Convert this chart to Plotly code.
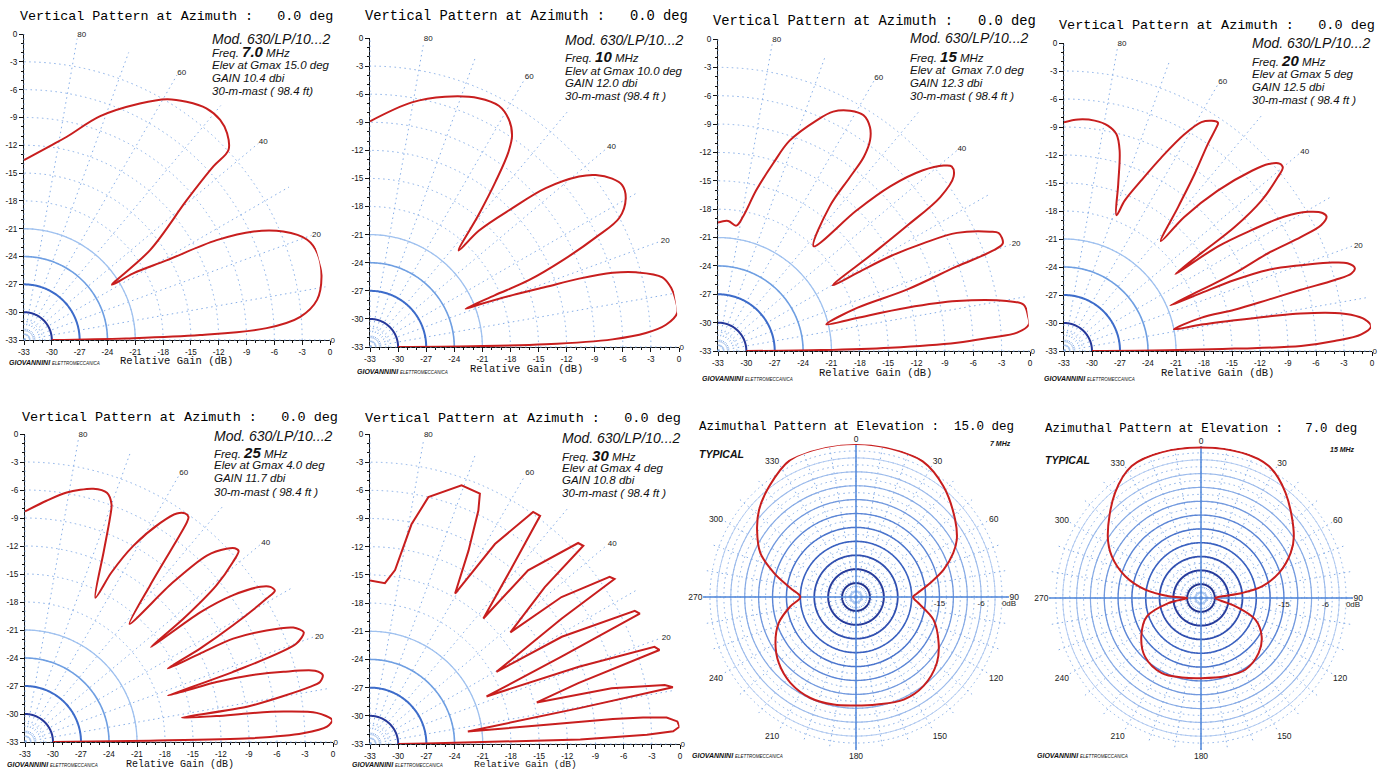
import numpy as np
import plotly.graph_objects as go

W, H = 1392, 769

# ------------------------------------------------------------------
# DATA  (elevation angle in degrees, relative gain in dB)
# ------------------------------------------------------------------
elev_7mhz = [0, 0.9, 1.6, 2.8, 4.8, 7.8, 12.0, 16.4, 19.5, 22.7, 25.3, 27.4, 29.2, 31.4, 32.1,
             35.5, 40.7, 42.5, 42.9, 45.5, 48.3, 51.8, 55.7, 59.3, 63.9, 71.2, 78.1, 82.4, 90]
gain_7mhz = [-30, -22, -14.0, -6.8, -3.1, -1.1, -0.2, 0, -0.6, -2.7, -5.6, -9.6, -15.4, -19.2, -21.8,
             -16.3, -9.8, -5.3, -2.9, -1.75, -1.2, -1.2, -1.9, -2.8, -4.6, -7.5, -10.6, -11.9, -13.6]

elev_10mhz = [0, 0.4, 0.86, 1.8, 2.9, 4.3, 6.3, 9.2, 11.0, 13.4, 15.7, 17.0, 18.1, 18.9, 20.0, 21.2, 21.8,
              22.5, 22.8, 24.2, 25.9, 27.4, 30.2, 32.7, 34.8, 37.3, 39.2, 42.1, 44.3, 46.9, 47.4,
              50.6, 52.8, 54.6, 56.1, 58.7, 61.9, 66.4, 73.3, 80.3, 90]
gain_10mhz = [-30, -22, -14.25, -7.1, -3.5, -1.3, 0, 0, -0.2, -0.9, -3.5, -5.9, -9.5, -13.2, -16.8, -20.4, -22.0,
              -18.6, -14.6, -10.5, -6.2, -3.0, -1.4, -1.0, -1.5, -2.7, -4.2, -7.7, -11.8, -16.0, -19.0,
              -14.7, -10.8, -7.5, -5.8, -4.5, -3.8, -4.0, -5.1, -6.5, -8.9]

elev_15mhz = [0, 0.5, 1.1, 2.0, 2.8, 3.5, 4.9, 6.4, 8.6, 9.8, 11.8, 12.9, 13.4, 13.8,
              17.2, 18.0, 19.5, 20.0, 20.7, 22.8, 23.7, 26.3, 27.7, 28.8, 29.3, 29.8,
              32.2, 33.5, 34.7, 36.5, 38.3, 39.4, 41.4, 43.7, 45.4, 47.6,
              52.3, 52.8, 53.1, 54.2, 55.8, 58.3, 61.2, 64.3, 66.9, 71.2, 73.6, 76.6, 79.4, 81.7, 85.5, 90]
gain_15mhz = [-30, -22, -14.8, -7.7, -4.2, -1.3, 0, 0, -0.3, -2.0, -7.2, -12.5, -17.9, -21.2,
              -17.6, -12.0, -6.2, -2.3, -0.8, -0.8, -1.6, -4.8, -8.5, -12.2, -16.0, -19.0,
              -13.6, -9.1, -4.4, -2.0, -1.5, -2.1, -4.1, -7.8, -12.1, -18.0,
              -13.7, -9.9, -7.3, -5.5, -4.4, -3.7, -4.0, -4.9, -6.5, -9.5, -12.3, -15.5, -18.5, -19.6, -19.2, -19.4]

elev_20mhz = [0, 0.4, 0.8, 1.2, 2.1, 3.2, 4.6, 6.0, 7.2, 8.0, 9.0, 9.6, 10.2, 10.9, 11.2,
              13.6, 13.6, 14.1, 14.5, 14.7, 15.1, 15.9, 17.2, 18.5, 19.9, 21.7, 22.6, 22.9, 23.2,
              24.0, 24.5, 25.6, 25.7, 26.1, 27.1, 28.1, 29.7, 31.4, 32.8, 34.2, 34.6,
              35.5, 36.0, 37.3, 39.1, 40.0, 41.0, 42.4, 43.8, 46.2, 48.1, 48.6,
              51.6, 53.6, 55.2, 55.7, 56.0, 57.3, 59.0, 60.9, 63.3, 65.6, 68.0, 68.9,
              72.0, 74.5, 76.4, 79.0, 82.4, 86.5, 90]
gain_20mhz = [-30, -22, -14.7, -7.6, -4.0, -1.1, 0, -0.6, -2.0, -3.7, -7.3, -10.8, -14.4, -18.0, -21.0,
              -17.9, -14.2, -10.4, -6.8, -3.0, -1.1, -0.6, -1.2, -3.2, -6.0, -9.5, -13.2, -17.0, -20.6,
              -16.9, -12.9, -8.7, -4.8, -2.3, -1.4, -1.6, -2.9, -5.4, -9.1, -13.1, -18.5,
              -14.9, -10.4, -6.4, -3.5, -2.4, -2.4, -3.3, -5.1, -9.2, -13.7, -17.3,
              -13.3, -9.4, -6.0, -4.1, -3.5, -3.7, -4.4, -6.4, -9.8, -12.9, -15.6, -17.4,
              -14.2, -10.7, -9.1, -8.4, -8.1, -8.15, -8.5]

elev_25mhz = [0, 0.6, 0.95, 1.8, 2.9, 4.1, 5.7, 6.7, 7.3, 7.7, 8.8,
              9.1, 10.95, 11.5, 12.65, 13.8, 15.2, 16.5, 17.4, 18.0,
              18.6, 19.9, 21.5, 23.1, 24.8, 26.4, 26.8, 27.2,
              28.1, 29.3, 30.7, 31.2, 32.3, 33.4, 35.2, 36.5, 37.0,
              37.9, 39.3, 40.9, 41.8, 42.7, 43.8, 45.7, 47.2, 48.5,
              51.4, 52.9, 53.6, 54.0, 55.0, 56.4, 58.3, 61.1, 63.0, 64.0,
              67.5, 69.2, 70.0, 71.8, 74.9, 80.5, 84.9, 90]
gain_25mhz = [-30, -19.6, -8.9, -3.2, -0.6, 0, -1.6, -5.1, -8.7, -12.3, -16.0,
              -8.6, -1.9, -0.75, -0.3, -1.0, -4.3, -7.9, -11.5, -16.9,
              -9.6, -2.1, -0.9, -1.75, -4.5, -8.1, -12.0, -15.8,
              -11.7, -7.4, -2.9, -1.7, -1.9, -2.8, -5.7, -9.65, -16.1,
              -11.5, -6.5, -3.5, -2.3, -2.4, -3.1, -5.1, -9.8, -16.1,
              -11.5, -6.6, -3.8, -3.2, -3.1, -3.6, -5.4, -9.0, -12.65, -15.8,
              -11.0, -7.4, -5.9, -4.9, -4.9, -5.9, -7.05, -8.3]

elev_30mhz = [0, 0.5, 1.0, 1.2, 1.9, 2.4, 3.2, 4.2, 5.1, 5.55, 5.9, 6.2, 7.3,
              9.7, 10.6, 11.3, 13.0, 14.0,
              16.3, 18.0, 18.85, 20.3, 22.2,
              24.5, 25.8, 26.7, 29.2, 29.7,
              33.2, 34.0, 34.9, 37.5, 38.5,
              41.9, 42.9, 44.0, 47.7, 47.9,
              51.2, 53.3, 54.9, 58.0, 60.5,
              63.0, 65.1, 66.3, 70.5, 76.7, 79.3, 81.8, 84.7, 90]
gain_30mhz = [-30, -27, -21, -10.6, -3.5, -0.7, 0, -0.2, -1.3, -3.8, -7.0, -14.1, -22.5,
              -10.5, -0.2, -1.0, -6.6, -14.7,
              -9.9, -0.6, -1.0, -9.3, -19.6,
              -10.6, -1.1, -1.45, -9.6, -17.5,
              -8.6, -1.6, -1.9, -7.3, -13.9,
              -8.0, -2.0, -2.2, -8.0, -15.0,
              -8.9, -2.7, -2.8, -7.9, -14.6,
              -9.9, -5.6, -3.9, -3.8, -6.0, -9.2, -14.3, -15.8, -15.6]

# azimuthal patterns (azimuth deg, relative gain dB)
azim_7mhz = [0, 12.8, 26.2, 38.4, 52.1, 60.4, 65.7, 72.7, 79.3, 86.9, 90, 96.8, 106.3, 119.1, 129.2,
             142.9, 155.1, 169, 180, 191.7, 204.3, 217.4, 229.5, 240.3, 251.4, 261.9, 270, 277.8,
             286.3, 294.7, 304.2, 311.9, 321.7, 334.4, 347.9, 360]
azgain_7mhz = [0, -0.1, -0.4, -2.6, -5.9, -8.0, -10.0, -13.2, -16.7, -19.9, -20.7, -19.1, -15.6, -12.6, -10.5,
               -8.9, -8.6, -9.4, -9.6, -9.3, -9.1, -9.7, -11.1, -13.0, -15.4, -18.7, -21.0, -18.7,
               -14.6, -10.3, -7.2, -4.9, -2.7, -0.2, 0, 0]

azim_15mhz = [0, 15.6, 27.2, 38.8, 56.4, 63.3, 72.2, 79.2, 83.0, 85.5, 90, 103.6, 111.7, 122.4, 133.6,
              148.3, 162.7, 180, 193.5, 207.5, 223.7, 237.3, 251.2, 261.2, 270, 273, 278.5, 286.0,
              295.1, 303.6, 320.8, 332.3, 345.1, 360]
azgain_15mhz = [-0.3, -0.2, -0.8, -3.7, -8.8, -11.2, -15.2, -19.5, -24.0, -28.4, -29.9, -25.3, -20.3, -17.4, -15.7,
                -14.7, -15.2, -15.6, -15.25, -14.6, -15.4, -17.6, -20.6, -25.9, -30.0, -26.0, -20.75, -15.9,
                -11.6, -8.7, -3.5, -0.65, -0.2, -0.3]

# text content
freq_labels = ["7.0", "10", "15", "20", "25", "30"]
elev_labels = ["Elev at Gmax 15.0 deg", "Elev at Gmax 10.0 deg", "Elev at  Gmax 7.0 deg",
               "Elev at Gmax 5 deg", "Elev at Gmax 4.0 deg", "Elev at Gmax 4 deg"]
gain_labels = ["GAIN 10.4 dbi", "GAIN 12.0 dbi", "GAIN 12.3 dbi",
               "GAIN 12.5 dbi", "GAIN 11.7 dbi", "GAIN 10.8 dbi"]
mast_labels = ["30-m-mast ( 98.4 ft)", "30-m-mast (98.4 ft )", "30-m-mast ( 98.4 ft )",
               "30-m-mast ( 98.4 ft )", "30-m-mast ( 98.4 ft )", "30-m-mast ( 98.4 ft )"]
model_label = "Mod. 630/LP/10...2"
vert_title = "Vertical Pattern at Azimuth :   0.0 deg"
az_titles = ["Azimuthal Pattern at Elevation :  15.0 deg", "Azimuthal Pattern at Elevation :   7.0 deg"]
az_freqs = ["7 MHz", "15 MHz"]
gain_ticks = list(range(-33, 1, 3))
vert_angle_ticks = list(range(0, 91, 10))
az_angle_ticks = list(range(0, 360, 10))
az_radial_labels = {-15: "-15", -6: "-6", 0: "0dB"}

# ------------------------------------------------------------------
# STYLE / LAYOUT
# ------------------------------------------------------------------
RED = "#c81e1e"
SANS = "Liberation Sans, Arial, sans-serif"
MONO = "Liberation Mono, Courier New, monospace"
DOT = "1.5px,3.5px"
GRIDC = "#86aee8"

vert_rings = [(-32, "#a9c6f0", 1.0), (-30, "#26389a", 2.0), (-27, "#3d6cca", 2.0),
              (-24, "#6f9fe2", 1.6), (-21, "#9fc1ef", 1.3)]
az_rings = [(-32, "#a9c6f0", 1.0), (-30, "#22348f", 2.0), (-27, "#273c9c", 2.0), (-24, "#3150b0", 1.8),
            (-21, "#3a61c0", 1.6), (-18, "#4a74cc", 1.5), (-15, "#5c86d6", 1.4), (-12, "#7299de", 1.3),
            (-9, "#86aae5", 1.2), (-6, "#9bbaeb", 1.1), (-3, "#b0c9f0", 1.0)]

vert_boxes = [(24, 34, 306), (370, 38, 309), (718, 39, 312),
              (1064, 43, 308), (25, 434, 308), (370, 434, 310)]
az_boxes = [(703, 444, 306), (1049, 446, 304)]

vert_series = [(elev_7mhz, gain_7mhz, "spline"), (elev_10mhz, gain_10mhz, "spline"),
               (elev_15mhz, gain_15mhz, "spline"), (elev_20mhz, gain_20mhz, "spline"),
               (elev_25mhz, gain_25mhz, "spline"), (elev_30mhz, gain_30mhz, "linear")]
smooth = [1.0, 1.0, 1.0, 1.0, 0.8, 0]

title_pos = [(176, 17, 13.4), (526, 17, 13.8), (874, 22, 13.8), (1217, 25, 13.5), (180, 417, 13.5), (523, 418, 13.5)]
info_pos = [(210, [39, 52, 65, 78, 91]), (563, [40, 57, 71, 83, 96]), (908, [38, 57, 70, 83, 96]),
            (1250, [43, 61, 74, 87, 100]), (212, [436, 452, 465, 478, 492]), (560, [438, 455, 468, 480, 493])]
xlabel_pos = [(176, 361, 10.5), (526, 369, 10.5), (875, 373, 10.5), (1217, 373, 10.5),
              (180, 764, 10), (525, 764, 9.5)]
logo_pos = [(7, 362), (355, 371), (700, 378), (1042, 378), (5, 764), (350, 764), (690, 755), (1035, 755)]


def dom(box):
    left, top, size = box
    return [left / W, (left + size) / W], [1 - (top + size) / H, 1 - top / H]


fig = go.Figure()
layout = dict(width=W, height=H, margin=dict(l=0, r=0, t=0, b=0), paper_bgcolor="white",
              plot_bgcolor="rgba(0,0,0,0)", showlegend=False, font=dict(family=SANS, color="#111"))
annotations = []


def ann(text, x, y, size, family=SANS, xanchor="left", color="#111"):
    annotations.append(dict(text=text, x=x / W, y=1 - y / H, xref="paper", yref="paper",
                            xanchor=xanchor, yanchor="middle", showarrow=False,
                            font=dict(size=size, family=family, color=color)))


NB = "\u00a0"

for i, ((elev, gain, shape), box) in enumerate(zip(vert_series, vert_boxes), start=1):
    pid = "polar" if i == 1 else f"polar{i}"
    xd, yd = dom(box)
    layout[pid] = dict(
        domain=dict(x=xd, y=yd), sector=[0, 90], bgcolor="rgba(0,0,0,0)",
        radialaxis=dict(range=[-33, 0], tickvals=[-31] + gain_ticks[1:], showticklabels=False, ticks="",
                        showline=False, gridcolor=GRIDC, griddash=DOT, gridwidth=1),
        angularaxis=dict(rotation=0, direction="counterclockwise", tickmode="array",
                         tickvals=vert_angle_ticks,
                         ticktext=[str(v) if (v % 20 == 0 and v < 90) else "" for v in vert_angle_ticks],
                         showline=False, ticks="", gridcolor=GRIDC, griddash=DOT, gridwidth=1,
                         tickfont=dict(size=8, family=SANS, color="#222")))
    th = np.linspace(0, 90, 91)
    for r, c, w in vert_rings:
        fig.add_trace(go.Scatterpolar(r=[r] * len(th), theta=th, mode="lines", subplot=pid,
                                      line=dict(color=c, width=w), hoverinfo="skip"))
    line = dict(color=RED, width=2, shape=shape)
    if shape == "spline":
        line["smoothing"] = smooth[i - 1]
    fig.add_trace(go.Scatterpolar(r=gain, theta=elev, mode="lines", subplot=pid, line=line))

    xa = "xaxis" if i == 1 else f"xaxis{i}"
    ya = "yaxis" if i == 1 else f"yaxis{i}"
    xr = "x" if i == 1 else f"x{i}"
    yr = "y" if i == 1 else f"y{i}"
    common = dict(range=[-33, 0], tickmode="array", tickvals=gain_ticks,
                  ticktext=[str(v) for v in gain_ticks], ticks="outside", ticklen=4, tickcolor="#111",
                  showline=True, linecolor="#111", linewidth=1, showgrid=False, zeroline=False,
                  automargin=False, fixedrange=True,
                  tickfont=dict(size=8.2, family=SANS, color="#111"),
                  minor=dict(tickmode="linear", tick0=0, dtick=1, ticks="outside", ticklen=2, tickcolor="#111"))
    layout[xa] = dict(domain=xd, anchor=yr, **common)
    layout[ya] = dict(domain=yd, anchor=xr, **common)
    fig.add_trace(go.Scatter(x=[None], y=[None], xaxis=xr, yaxis=yr, hoverinfo="skip"))

    # texts
    tx, ty, ts = title_pos[i - 1]
    ann(vert_title.replace(" ", NB), tx, ty, ts, family=MONO, xanchor="center", color="#000")
    lx, ys = info_pos[i - 1]
    ann(f"<i>{model_label}</i>", lx, ys[0], 14)
    ann(f"<i>Freq. <b><span style='font-size:15px'>{freq_labels[i-1]}</span></b> MHz</i>", lx, ys[1], 11.5)
    ann(f"<i>{elev_labels[i-1].replace(' ', NB)}</i>", lx, ys[2], 11.5)
    ann(f"<i>{gain_labels[i-1]}</i>", lx, ys[3], 11.5)
    ann(f"<i>{mast_labels[i-1].replace(' ', NB)}</i>", lx, ys[4], 11.5)
    gx, gy, gs = xlabel_pos[i - 1]
    ann("Relative Gain (dB)", gx, gy, gs, family=MONO, xanchor="center")

az_series = [(azim_7mhz, azgain_7mhz), (azim_15mhz, azgain_15mhz)]
az_grid = list(np.arange(-31.5, 0.01, 1.5))
for j, ((az, g), box) in enumerate(zip(az_series, az_boxes)):
    i = 7 + j
    pid = f"polar{i}"
    xd, yd = dom(box)
    layout[pid] = dict(
        domain=dict(x=xd, y=yd), bgcolor="rgba(0,0,0,0)",
        radialaxis=dict(range=[-33, 0], tickmode="array", tickvals=az_grid,
                        ticktext=[az_radial_labels.get(int(round(v)), "") if abs(v - round(v)) < 1e-6 else ""
                                  for v in az_grid],
                        angle=0, side="clockwise", showline=False, ticks="",
                        gridcolor=GRIDC, griddash=DOT, gridwidth=1,
                        tickfont=dict(size=8, family=SANS, color="#222")),
        angularaxis=dict(rotation=90, direction="clockwise", tickmode="array", tickvals=az_angle_ticks,
                         ticktext=[str(v) if v % 30 == 0 else "" for v in az_angle_ticks],
                         showline=False, ticks="", gridcolor=GRIDC, griddash=DOT, gridwidth=1,
                         tickfont=dict(size=8.5, family=SANS, color="#222")))
    th = np.linspace(0, 360, 361)
    for r, c, w in az_rings:
        fig.add_trace(go.Scatterpolar(r=[r] * len(th), theta=th, mode="lines", subplot=pid,
                                      line=dict(color=c, width=w), hoverinfo="skip"))
    for a in (0, 90):
        fig.add_trace(go.Scatterpolar(r=[0, -33, 0], theta=[a, a, a + 180], mode="lines", subplot=pid,
                                      line=dict(color="#4f86d8", width=1.5), hoverinfo="skip"))
    fig.add_trace(go.Scatterpolar(r=g, theta=az, mode="lines", subplot=pid,
                                  line=dict(color=RED, width=2, shape="spline", smoothing=1.0)))

ann(az_titles[0].replace(" ", NB), 856, 427, 12.5, family=MONO, xanchor="center", color="#000")
ann(az_titles[1].replace(" ", NB), 1201, 429, 12.4, family=MONO, xanchor="center", color="#000")
ann("<b><i>TYPICAL</i></b>", 697, 454, 10.5)
ann("<b><i>TYPICAL</i></b>", 1043, 460, 10.5)
ann(f"<b><i>{az_freqs[0]}</i></b>", 1013, 443, 7, xanchor="right")
ann(f"<b><i>{az_freqs[1]}</i></b>", 1357, 449, 7, xanchor="right")

for (lx, ly) in logo_pos:
    ann("<b><i>GIOVANNINI</i></b> <i><span style='font-size:4.5px'>ELETTROMECCANICA</span></i>", lx, ly, 7)

layout["annotations"] = annotations
fig.update_layout(layout)
fig.write_html("out.html", config={"displayModeBar": False},
               post_script="document.body.style.margin='0px';")
